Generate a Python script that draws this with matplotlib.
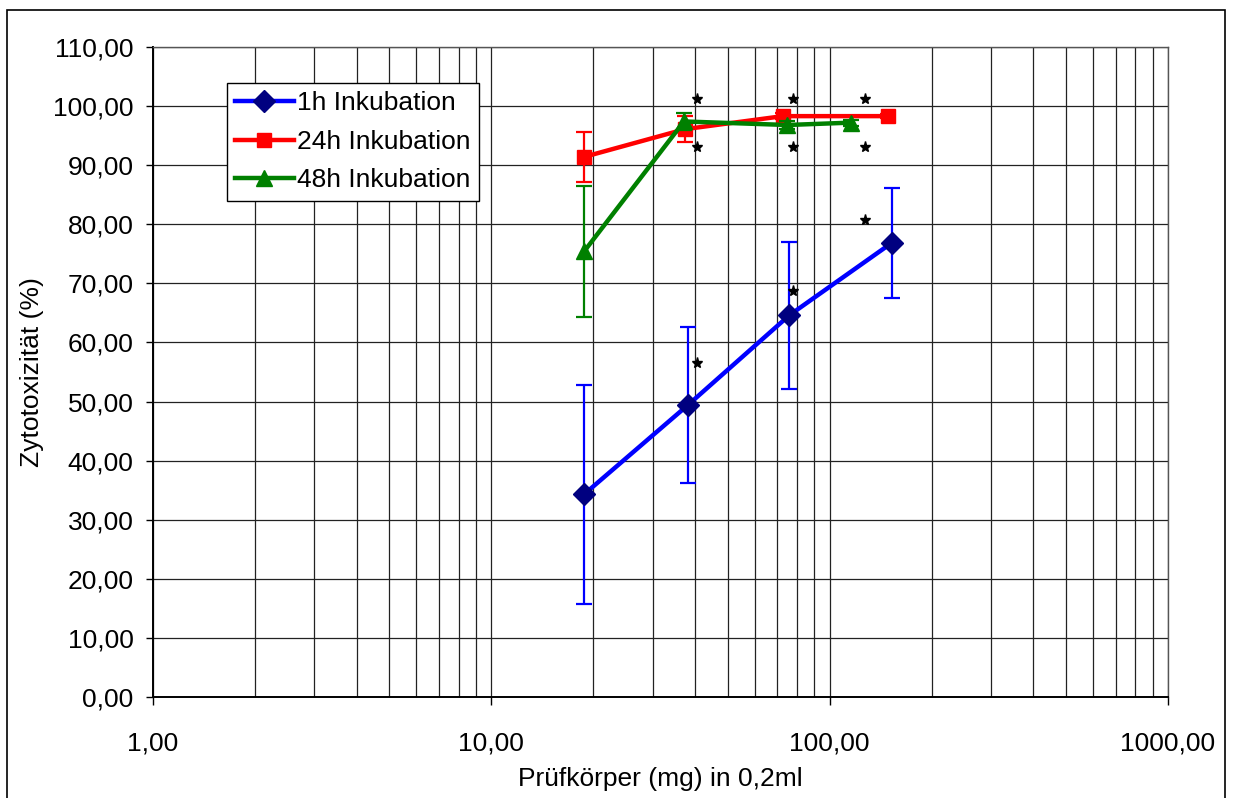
import matplotlib
matplotlib.use('Agg')
import matplotlib.pyplot as plt
import matplotlib.ticker as ticker
from matplotlib.lines import Line2D
from matplotlib.patches import Rectangle

plt.rcParams['font.family'] = ['Liberation Sans', 'DejaVu Sans']
plt.rcParams['font.size'] = 19

# Prüfkörper (mg) je Ansatz und Zytotoxizität (%) mit Standardabweichung
dose_1h = [18.8, 38.1, 76.0, 153.0]
tox_1h = [34.3, 49.4, 64.6, 76.9]
sd_1h = [18.5, 13.2, 12.4, 9.3]

dose_24h = [18.8, 37.4, 72.7, 148.5]
tox_24h = [91.4, 96.1, 98.3, 98.3]
sd_24h = [4.2, 2.2, 0.5, 0.4]

dose_48h = [18.8, 37.1, 75.0, 115.4]
tox_48h = [75.4, 97.4, 96.8, 97.2]
sd_48h = [11.1, 1.5, 0.6, 0.5]

# Signifikanzsterne
star_x = [40.5, 40.5, 40.5, 77.8, 77.8, 77.8, 127.0, 127.0, 127.0]
star_y = [101.2, 93.0, 56.5, 101.2, 93.0, 68.7, 101.2, 93.0, 80.8]

series = [
    (dose_1h, tox_1h, sd_1h, '#0000ff', 'D', 11, '#000080', '1h Inkubation'),
    (dose_24h, tox_24h, sd_24h, '#ff0000', 's', 10, '#ff0000', '24h Inkubation'),
    (dose_48h, tox_48h, sd_48h, '#008000', '^', 11, '#008000', '48h Inkubation'),
]

fig = plt.figure(figsize=(12.34, 7.98), dpi=100)
ax = fig.add_axes([0.124, 0.1266, 0.8225, 0.8145])

handles = []
for i, (x, y, err, col, mk, ms, mcol, lab) in enumerate(series):
    ax.errorbar(x, y, yerr=err, color=col, lw=3.2, marker=mk, ms=ms,
                mfc=mcol, mec=mcol, ecolor=col, elinewidth=1.6,
                capsize=6, capthick=1.6, zorder=3 + i)
    handles.append(Line2D([], [], color=col, lw=3.2, marker=mk, ms=ms,
                          mfc=mcol, mec=mcol, label=lab))
ax.plot(star_x, star_y, ls='none', marker='*', ms=8, color='black', zorder=6)

ax.set_xscale('log')
ax.set_xlim(1, 1000)
ax.set_ylim(0, 110)
ax.yaxis.set_major_locator(ticker.MultipleLocator(10))
fmt = ticker.FuncFormatter(lambda v, p: f'{v:.2f}'.replace('.', ','))
ax.xaxis.set_major_formatter(fmt)
ax.yaxis.set_major_formatter(fmt)
ax.xaxis.set_minor_formatter(ticker.NullFormatter())

ax.grid(True, which='major', axis='both', color='#222222', lw=0.9)
ax.grid(True, which='minor', axis='x', color='#222222', lw=0.9)
ax.set_axisbelow(True)

ax.tick_params(axis='x', which='major', direction='out', length=6, width=1, pad=19)
ax.tick_params(axis='x', which='minor', length=0)
ax.tick_params(axis='y', which='major', direction='out', length=5, width=1, pad=9)

for s in ['left', 'bottom']:
    ax.spines[s].set_color('black')
    ax.spines[s].set_linewidth(1.4)
for s in ['top', 'right']:
    ax.spines[s].set_color('#555555')
    ax.spines[s].set_linewidth(1.0)

ax.set_xlabel('Prüfkörper (mg) in 0,2ml')
ax.set_ylabel('Zytotoxizität (%)')
ax.xaxis.set_label_coords(0.5, -0.108)
ax.yaxis.set_label_coords(-0.107, 0.5)

leg = ax.legend(handles=handles, loc='upper left', bbox_to_anchor=(0.0729, 0.9446),
                frameon=True, fancybox=False, framealpha=1, edgecolor='black',
                handlelength=2.2, handletextpad=0.15, labelspacing=0.55,
                borderpad=0.32, borderaxespad=0)
leg.get_frame().set_linewidth(1.0)

# Rahmen um das Diagramm
fig.patches.append(Rectangle((7 / 1234, -0.02), 1218 / 1234, 1 - 10 / 798 + 0.02,
                             transform=fig.transFigure, fill=False,
                             edgecolor='black', lw=1.2))

fig.savefig('out.png', dpi=100)
